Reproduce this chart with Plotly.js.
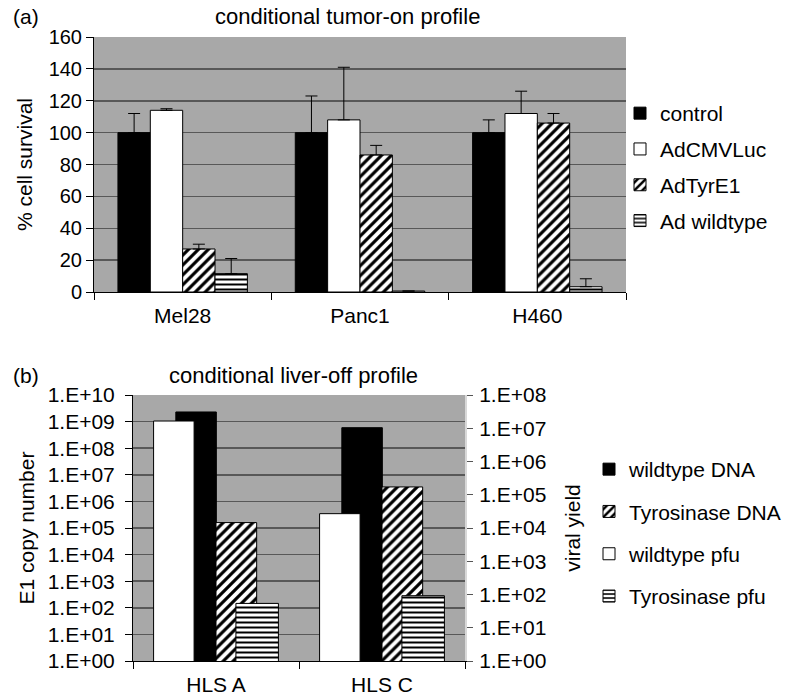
<!DOCTYPE html>
<html>
<head>
<meta charset="utf-8">
<script src="https://cdn.plot.ly/plotly-3.0.1.min.js"></script>
<style>html,body{margin:0;padding:0;background:#fff;}#chart{width:790px;height:698px;}</style>
</head>
<body>
<div id="chart"></div>
<script>
// ---------- data: panel (a) ----------
const topCategories = ['Mel28', 'Panc1', 'H460'];
const controlVals = [100, 100, 100];
const controlErr = [12, 23, 8];
const adcmvlucVals = [114, 108, 112];
const adcmvlucErr = [1, 33, 14];
const adtyre1Vals = [27, 86, 106];
const adtyre1Err = [3, 6, 6];
const adwildVals = [11.5, 0.6, 3.3];
const adwildErr = [9.5, 0, 5];
const topTickVals = [0, 20, 40, 60, 80, 100, 120, 140, 160];

// ---------- data: panel (b) ----------
const bottomCategories = ['HLS A', 'HLS C'];
const wildtypeDNA = [2.3e9, 5.9e8];
const tyrosinaseDNA = [1.6e5, 3.5e6];
const wildtypePfu = [1.65e7, 2.7e4];
const tyrosinasePfu = [54, 92];
const leftTickVals = [1e0, 1e1, 1e2, 1e3, 1e4, 1e5, 1e6, 1e7, 1e8, 1e9, 1e10];
const leftTickText = ['1.E+00', '1.E+01', '1.E+02', '1.E+03', '1.E+04', '1.E+05', '1.E+06', '1.E+07', '1.E+08', '1.E+09', '1.E+10'];
const rightTickVals = [1e0, 1e1, 1e2, 1e3, 1e4, 1e5, 1e6, 1e7, 1e8];
const rightTickText = ['1.E+00', '1.E+01', '1.E+02', '1.E+03', '1.E+04', '1.E+05', '1.E+06', '1.E+07', '1.E+08'];

const FONT = 'Liberation Sans, Arial, sans-serif';
const W = 790, H = 698;
const px = v => v / W;
const py = v => 1 - v / H;

const errStyle = arr => ({type: 'data', symmetric: false, array: arr, arrayminus: arr.map(() => 0),
  color: '#000', thickness: 1, width: 6});
const outline = {color: '#000', width: 1};

const traces = [
  {type: 'bar', name: 'control', x: topCategories, y: controlVals, error_y: errStyle(controlErr),
   marker: {color: '#000', line: outline}, xaxis: 'x', yaxis: 'y', legend: 'legend', legendgroup: 'a1'},
  {type: 'bar', name: 'AdCMVLuc', x: topCategories, y: adcmvlucVals, error_y: errStyle(adcmvlucErr),
   marker: {color: '#fff', line: outline}, xaxis: 'x', yaxis: 'y', legend: 'legend', legendgroup: 'a2'},
  {type: 'bar', name: 'AdTyrE1', x: topCategories, y: adtyre1Vals, error_y: errStyle(adtyre1Err),
   marker: {color: '#fff', line: outline, pattern: {shape: '/', fgcolor: '#000', bgcolor: '#fff', size: 7, solidity: 0.45}},
   xaxis: 'x', yaxis: 'y', legend: 'legend', legendgroup: 'a3'},
  {type: 'bar', name: 'Ad wildtype', x: topCategories, y: adwildVals, error_y: errStyle(adwildErr),
   marker: {color: '#fff', line: outline, pattern: {shape: '-', fgcolor: '#000', bgcolor: '#fff', size: 5, solidity: 0.4}},
   xaxis: 'x', yaxis: 'y', legend: 'legend', legendgroup: 'a4'},

  {type: 'bar', name: 'wildtype DNA', x: bottomCategories, y: wildtypeDNA, offset: -0.242, width: 0.244,
   marker: {color: '#000', line: outline}, xaxis: 'x2', yaxis: 'y2', legend: 'legend2', legendgroup: 'b1'},
  {type: 'bar', name: 'Tyrosinase DNA', x: bottomCategories, y: tyrosinaseDNA, offset: 0, width: 0.245,
   marker: {color: '#fff', line: outline, pattern: {shape: '/', fgcolor: '#000', bgcolor: '#fff', size: 7, solidity: 0.45}},
   xaxis: 'x2', yaxis: 'y2', legend: 'legend2', legendgroup: 'b2'},
  {type: 'bar', name: 'wildtype pfu', x: bottomCategories, y: wildtypePfu, offset: -0.376, width: 0.244,
   marker: {color: '#fff', line: outline}, xaxis: 'x2', yaxis: 'y3', legend: 'legend2', legendgroup: 'b3'},
  {type: 'bar', name: 'Tyrosinase pfu', x: bottomCategories, y: tyrosinasePfu, offset: 0.12, width: 0.256,
   marker: {color: '#fff', line: outline, pattern: {shape: '-', fgcolor: '#000', bgcolor: '#fff', size: 5, solidity: 0.4}},
   xaxis: 'x2', yaxis: 'y3', legend: 'legend2', legendgroup: 'b4'}
];

const tickFont = {family: FONT, size: 20, color: '#000'};
const catFont = {family: FONT, size: 21, color: '#000'};
const logFont = {family: FONT, size: 21, color: '#000'};
const titleFont = {family: FONT, size: 21, color: '#000'};
const headFont = {family: FONT, size: 22, color: '#000'};

const layout = {
  width: W, height: H,
  margin: {l: 0, r: 0, t: 0, b: 0},
  paper_bgcolor: '#fff',
  plot_bgcolor: '#a8a8a8',
  font: {family: FONT, size: 20, color: '#000'},
  barmode: 'group', bargap: 0.27, bargroupgap: 0,
  xaxis: {domain: [px(94), px(626)], anchor: 'y', type: 'category', range: [-0.5, 2.5],
    showline: true, linecolor: '#000', linewidth: 1, ticks: 'outside', tickson: 'boundaries',
    ticklen: 7, tickcolor: '#000', tickfont: catFont, showgrid: false, ticklabelstandoff: 5},
  yaxis: {domain: [py(292), py(37)], anchor: 'x', range: [0, 160], tickvals: topTickVals,
    showline: true, linecolor: '#000', linewidth: 1, ticks: 'outside', ticklen: 7, tickcolor: '#000',
    tickfont: tickFont, showgrid: true, gridcolor: '#585858', gridwidth: 1.5, zeroline: false,
    title: {text: '% cell survival', font: titleFont, standoff: 10}},
  xaxis2: {domain: [px(133), px(465)], anchor: 'y2', type: 'category', range: [-0.5, 1.5],
    showline: true, linecolor: '#000', linewidth: 1, ticks: 'outside', tickson: 'boundaries',
    ticklen: 7, tickcolor: '#000', tickfont: catFont, showgrid: false, ticklabelstandoff: 5},
  yaxis2: {domain: [py(661), py(395)], anchor: 'x2', type: 'log', range: [0, 10],
    tickvals: leftTickVals, ticktext: leftTickText,
    showline: true, linecolor: '#000', linewidth: 1, ticks: 'outside', ticklen: 7, tickcolor: '#000',
    tickfont: logFont, showgrid: true, gridcolor: '#585858', gridwidth: 1.5, zeroline: false,
    ticklabelstandoff: 6,
    title: {text: 'E1 copy number', font: titleFont, standoff: 7}},
  yaxis3: {overlaying: 'y2', anchor: 'x2', side: 'right', type: 'log', range: [0, 8],
    tickvals: rightTickVals, ticktext: rightTickText,
    showline: true, linecolor: '#d8d8d8', linewidth: 2, ticks: 'outside', ticklen: 6, tickcolor: '#555',
    tickfont: logFont, showgrid: false, zeroline: false, ticklabelstandoff: 2,
    title: {text: 'viral yield', font: titleFont, standoff: 20}},
  legend: {x: px(620), y: py(93), xanchor: 'left', yanchor: 'top', font: {family: FONT, size: 21},
    bgcolor: 'rgba(0,0,0,0)', traceorder: 'grouped', tracegroupgap: 5.5, itemclick: false},
  legend2: {x: px(589), y: py(449), xanchor: 'left', yanchor: 'top', font: {family: FONT, size: 21},
    bgcolor: 'rgba(0,0,0,0)', traceorder: 'grouped', tracegroupgap: 12, itemclick: false},
  annotations: [
    {text: '(a)', xref: 'paper', yref: 'paper', x: px(11), y: py(17), xanchor: 'left', yanchor: 'middle',
     showarrow: false, font: titleFont},
    {text: 'conditional tumor-on profile', xref: 'paper', yref: 'paper', x: px(347), y: py(17),
     xanchor: 'center', yanchor: 'middle', showarrow: false, font: headFont},
    {text: '(b)', xref: 'paper', yref: 'paper', x: px(11), y: py(375), xanchor: 'left', yanchor: 'middle',
     showarrow: false, font: titleFont},
    {text: 'conditional liver-off profile', xref: 'paper', yref: 'paper', x: px(293), y: py(375),
     xanchor: 'center', yanchor: 'middle', showarrow: false, font: headFont}
  ]
};

Plotly.newPlot('chart', traces, layout, {staticPlot: true, displayModeBar: false});
</script>
</body>
</html>
